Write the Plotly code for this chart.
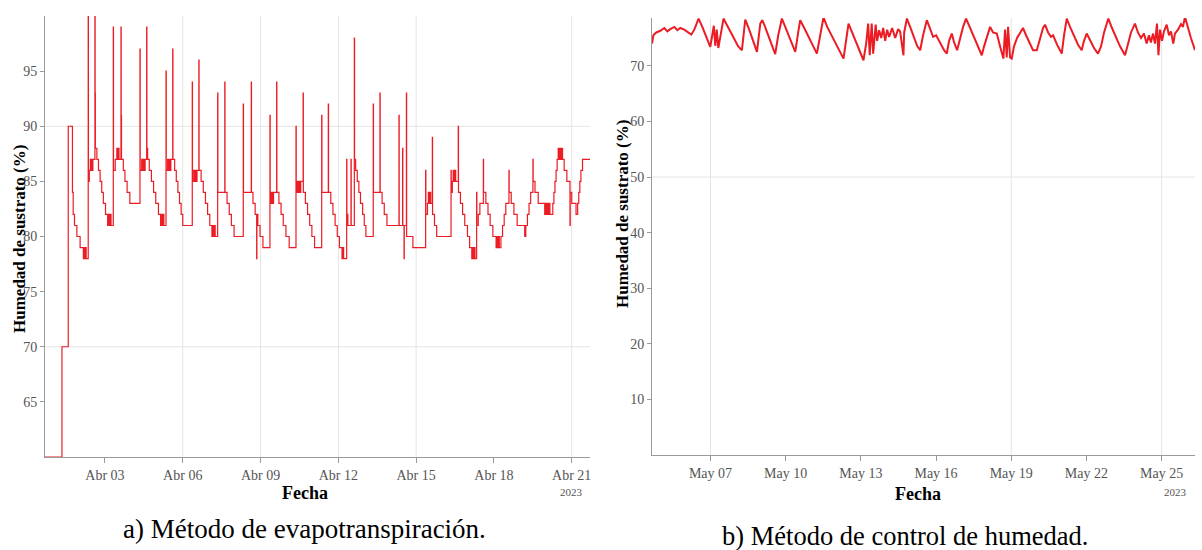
import pandas as pd
import plotly.graph_objects as go

# ---------------- Panel a) Método de evapotranspiración ----------------
# hours since 2023-04-01 00:00 and substrate moisture (%) (step series)
evap_hours = [
    -7.5, 8.2, 14.0, 17.9, 18.6, 19.8, 22.0, 25.0, 28.0, 29.0, 29.4, 30.2, 30.6,
    32.5, 32.7, 33.5, 34.5, 35.0, 35.5, 36.2, 36.8, 38.7, 38.9, 39.1, 40.5, 42.0, 43.5, 45.0, 46.5, 48.5, 50.5, 51.5, 52.2, 53.0, 53.6,
    55.7, 55.9, 57.5, 59.0, 59.6, 60.2, 61.0, 62.8, 63.0, 63.3, 65.0, 66.5, 68.5, 71.0,
    80.4, 80.6, 82.0, 83.0, 83.7, 84.5, 85.2, 86.6, 86.8, 87.5, 89.0, 91.0, 93.0, 95.0, 97.5, 99.5, 100.3, 101.0, 101.8, 102.5,
    104.5, 104.7, 106.0, 106.8, 107.5, 108.2, 109.0, 110.7, 110.9, 112.5, 114.0, 115.5, 117.0, 118.5, 120.0,
    128.8, 129.0, 130.2, 131.0, 131.7, 132.5, 133.2, 134.9, 135.1, 137.0, 139.0, 141.0, 143.0, 145.0, 147.0, 147.8, 148.5, 149.3, 150.0,
    152.3, 152.5, 158.9, 159.1, 161.0, 163.0, 165.0, 167.5,
    176.0, 176.2, 183.4, 183.6, 185.0, 187.0, 188.4, 188.6, 189.5, 191.5, 194.2,
    200.7, 200.9, 202.0, 203.0, 204.0, 206.9, 207.1, 209.0, 211.0, 213.0, 215.5, 218.5,
    224.8, 225.0, 226.0, 226.8, 227.6, 228.4, 229.2, 231.4, 231.6, 233.5, 235.5, 237.5, 239.5, 242.0,
    248.6, 248.8, 254.7, 254.9, 257.0, 259.0, 261.0, 263.0, 265.0, 267.4, 268.2, 268.9,
    271.7, 271.9, 272.8, 275.7, 275.9, 278.8, 279.0, 280.0, 281.5, 283.0, 284.5, 286.5, 288.0, 289.5,
    296.3, 296.5, 302.5, 302.7, 304.5, 306.5, 309.0,
    320.1, 320.3, 323.5, 323.7, 324.8, 325.0, 327.0, 327.2, 333.0,
    344.8, 345.0, 346.5, 347.3, 348.0, 348.8, 349.5, 351.0, 351.2, 353.0, 355.0,
    368.3, 368.5, 369.5, 370.3, 371.0, 371.8, 372.6, 375.0, 375.2, 377.0, 379.0, 381.0, 383.5, 385.5, 387.5, 388.3, 389.0, 389.8, 390.5,
    392.0, 392.2, 393.5, 395.0, 398.2, 398.4, 400.5, 402.5, 404.5, 407.0, 410.0, 410.8, 411.5, 412.3, 413.0,
    414.5, 416.0, 417.5, 419.0, 421.9, 422.1, 424.0, 426.5, 429.5, 436.5,
    437.5, 439.0, 440.5, 442.0, 444.1, 444.3, 446.0, 449.0, 455.0, 455.8, 456.6, 457.4, 458.2, 459.0, 459.8,
    462.5, 463.5, 464.5, 465.5, 466.5, 467.5, 468.3, 469.0, 469.8, 470.5, 471.5, 473.0, 475.5, 478.4, 478.6,
    480.0, 484.0, 485.5, 486.5, 487.5, 488.5, 490.0, 497.0,
]
evap_values = [
    60, 70, 90, 84, 82, 81, 80, 79, 78, 79, 78, 79, 78,
    100, 85, 86, 87, 86, 87, 86, 87, 100, 93, 88, 87, 86, 85, 84, 83, 82, 81, 82, 81, 82, 81,
    99, 86, 87, 88, 87, 88, 87, 99, 91, 87, 86, 85, 84, 83,
    97, 86, 87, 86, 87, 86, 87, 99, 88, 87, 86, 85, 84, 83, 82, 81, 82, 81, 82, 81,
    95, 86, 87, 86, 87, 86, 87, 97, 87, 86, 85, 84, 83, 82, 81,
    94, 85, 86, 85, 86, 85, 86, 96, 86, 85, 84, 83, 82, 81, 80, 81, 80, 81, 80,
    93, 84, 94, 84, 83, 82, 81, 80,
    92, 84, 94, 84, 83, 82, 78, 82, 81, 80, 79,
    91, 83, 84, 83, 84, 94, 84, 83, 82, 81, 80, 79,
    90, 84, 85, 84, 85, 84, 85, 93, 84, 83, 82, 81, 80, 79,
    91, 84, 92, 84, 83, 82, 81, 80, 79, 78, 79, 78,
    87, 82, 81, 87, 81, 98, 87, 86, 85, 84, 83, 82, 81, 80,
    92, 84, 93, 84, 83, 82, 81,
    91, 81, 88, 81, 78, 81, 93, 80, 79,
    86, 82, 83, 84, 83, 84, 83, 89, 82, 81, 80,
    86, 84, 85, 86, 85, 86, 85, 90, 84, 83, 82, 81, 80, 79, 78, 79, 78, 79, 78,
    84, 81, 82, 83, 87, 84, 83, 82, 81, 80, 79, 80, 79, 80, 79,
    80, 81, 82, 83, 86, 84, 83, 82, 81, 80,
    81, 82, 83, 84, 87, 85, 84, 83, 82, 83, 82, 83, 82, 83, 82,
    83, 84, 85, 86, 87, 88, 87, 88, 87, 88, 87, 86, 85, 81, 84,
    83, 82, 83, 84, 85, 86, 87, 87,
]
evap_tickvals = ["2023-04-03", "2023-04-06", "2023-04-09", "2023-04-12",
                 "2023-04-15", "2023-04-18", "2023-04-21"]
evap_ticktext = ["Abr 03", "Abr 06", "Abr 09", "Abr 12", "Abr 15", "Abr 18", "Abr 21"]
evap_grid_dates = ["2023-04-06", "2023-04-09", "2023-04-12", "2023-04-15", "2023-04-21"]
evap_grid_y = [70, 90]
evap_yticks = [65, 70, 75, 80, 85, 90, 95]

# ---------------- Panel b) Método de control de humedad ----------------
# hours since 2023-05-01 00:00 and substrate moisture (%)
ctrl_hours = [
    88.0, 89.3, 92.1, 96.0, 99.8, 102.7, 105.5, 109.4, 112.2, 115.1, 118.9, 122.8, 125.6, 128.5,
    132.6, 136.2, 140.0, 143.8, 145.7, 147.2, 148.6, 150.0, 151.5, 153.4, 156.5, 160.1, 163.9,
    167.7, 170.6, 174.1, 177.3, 181.1, 184.0, 188.5, 191.7, 193.6, 195.5, 199.3, 203.1, 206.0,
    208.9, 212.4, 215.6, 219.4, 222.3, 225.2, 228.0, 229.9, 233.8, 237.6, 241.4, 245.9, 249.1,
    252.2, 255.8, 259.6, 263.4, 267.3, 271.4, 276.2, 279.7, 283.5, 287.4, 290.5, 293.1, 295.0,
    296.5, 298.4, 299.8, 302.2, 303.6, 305.5, 307.5, 309.4, 311.3, 313.2, 315.1, 318.0, 320.9,
    323.7, 325.6, 328.8, 329.5, 332.1, 335.2, 339.0, 341.9, 344.8, 347.6, 351.2, 354.4, 357.2,
    360.1, 363.9, 367.7, 370.3, 372.5, 375.1, 377.3, 380.2, 383.1, 385.9, 388.8, 392.6, 396.5,
    400.3, 403.8, 406.0, 408.9, 411.8, 414.6, 418.2, 421.3, 424.5, 426.1, 427.7, 429.0, 430.9,
    432.5, 434.7, 437.6, 440.5, 443.3, 446.2, 450.0, 452.9, 456.5, 459.6, 462.5, 464.4, 467.3,
    470.1, 472.1, 475.9, 480.4, 482.6, 485.2, 488.3, 492.2, 496.0, 499.5, 501.7, 504.3, 507.5,
    511.3, 515.1, 518.0, 520.9, 525.0, 528.5, 532.4, 536.2, 541.0, 543.8, 546.7, 550.5, 553.4,
    556.3, 559.1, 561.7, 563.9, 565.8, 567.8, 569.7, 571.6, 573.0, 574.5, 576.4, 578.3, 580.9,
    583.1, 585.0, 587.2, 588.8, 591.7, 594.6, 596.5, 598.4, 601.3, 604.1, 608.0,
]
ctrl_values = [
    74.0, 75.5, 76.0, 76.3, 76.8, 76.2, 76.6, 77.0, 76.4, 76.8, 76.5, 76.0, 75.6, 76.5,
    78.5, 77.0, 75.0, 73.4, 75.5, 77.2, 73.6, 76.5, 73.2, 75.0, 78.5, 77.2, 75.8,
    74.5, 73.5, 72.8, 78.3, 76.5, 74.8, 72.5, 77.6, 78.2, 77.4, 75.5, 73.5, 72.1,
    75.5, 78.5, 77.0, 75.2, 73.8, 72.5, 76.0, 78.2, 76.8, 75.3, 73.8, 72.2, 75.5,
    78.7, 77.0, 75.6, 74.2, 72.8, 71.3, 77.6, 76.0, 74.2, 72.5, 71.0, 74.0, 77.6,
    71.9, 77.6, 72.2, 77.4, 74.5, 76.4, 75.0, 76.8, 74.5, 76.5, 75.2, 76.8, 75.0,
    76.6, 76.2, 71.9, 76.0, 78.5, 77.0, 75.0, 73.6, 72.8, 75.5, 78.2, 76.5, 75.2,
    75.5, 74.0, 72.8, 72.2, 74.5, 75.8, 74.2, 72.8, 75.0, 77.0, 78.5, 76.8, 75.0,
    73.2, 71.9, 73.5, 75.5, 77.0, 76.0, 75.8, 73.5, 71.3, 76.5, 71.5, 77.0, 71.5,
    71.3, 73.5, 75.0, 76.0, 76.8, 75.5, 74.0, 72.8, 72.8, 75.0, 76.8, 77.4, 76.0,
    75.2, 75.5, 73.8, 72.2, 75.5, 78.5, 77.0, 75.2, 73.8, 72.8, 74.5, 75.8, 74.5,
    73.2, 72.2, 73.5, 76.0, 78.5, 76.8, 75.0, 73.5, 71.9, 74.0, 76.0, 77.6, 76.0,
    75.0, 75.8, 74.0, 75.5, 74.2, 75.8, 74.0, 77.6, 71.9, 76.5, 74.5, 76.2, 77.4,
    75.5, 76.2, 74.0, 75.8, 76.5, 77.5, 77.0, 78.8, 76.8, 75.0, 72.8,
]
ctrl_tickvals = ["2023-05-07", "2023-05-10", "2023-05-13", "2023-05-16",
                 "2023-05-19", "2023-05-22", "2023-05-25"]
ctrl_ticktext = ["May 07", "May 10", "May 13", "May 16", "May 19", "May 22", "May 25"]
ctrl_grid_dates = ["2023-05-07", "2023-05-19", "2023-05-25"]
ctrl_grid_y = [50]
ctrl_yticks = [10, 20, 30, 40, 50, 60, 70]

captions = ["a) Método de evapotranspiración.", "b) Método de control de humedad."]
x_title = "Fecha"
y_title = "Humedad de sustrato (%)"
year_label = "2023"

# ---------------- build ----------------
W, H = 1202, 550
evap_t = pd.Timestamp("2023-04-01") + pd.to_timedelta(evap_hours, unit="h")
ctrl_t = pd.Timestamp("2023-05-01") + pd.to_timedelta(ctrl_hours, unit="h")

RED = "#ec1c24"
SERIF = "Liberation Serif, Times New Roman, serif"
GRID = "#e4e4e4"
AXIS = "#9a9a9a"

fig = go.Figure()
fig.add_trace(go.Scatter(x=evap_t, y=evap_values, mode="lines", line_shape="hv",
                         line=dict(color=RED, width=1.2), xaxis="x", yaxis="y",
                         showlegend=False))
fig.add_trace(go.Scatter(x=ctrl_t, y=ctrl_values, mode="lines",
                         line=dict(color=RED, width=2.0), xaxis="x2", yaxis="y2",
                         showlegend=False))


def px_x(p):
    return p / W


def px_y(p):
    return 1 - p / H


tickfont = dict(family=SERIF, size=14, color="#555555")
common_x = dict(showline=True, linecolor=AXIS, linewidth=1, ticks="outside",
                ticklen=5, tickcolor=AXIS, showgrid=False, zeroline=False,
                tickfont=tickfont, tickmode="array")
common_y = dict(showline=True, linecolor=AXIS, linewidth=1, ticks="outside",
                ticklen=4, tickcolor=AXIS, showgrid=False, zeroline=False,
                tickfont=tickfont, tickmode="array")

fig.update_layout(
    width=W, height=H, margin=dict(l=0, r=0, t=0, b=0),
    paper_bgcolor="white", plot_bgcolor="white",
    xaxis=dict(common_x, domain=[px_x(45), px_x(590)], anchor="y",
               range=["2023-03-31 16:30", "2023-04-21 16:55"],
               tickvals=evap_tickvals, ticktext=evap_ticktext),
    yaxis=dict(common_y, domain=[px_y(457), px_y(16)], anchor="x",
               range=[60, 100], tickvals=evap_yticks),
    xaxis2=dict(common_x, domain=[px_x(652), px_x(1195)], anchor="y2",
                range=["2023-05-04 16:00", "2023-05-26 08:00"],
                tickvals=ctrl_tickvals, ticktext=ctrl_ticktext),
    yaxis2=dict(common_y, domain=[px_y(455), px_y(18)], anchor="x2",
                range=[0, 78.6], tickvals=ctrl_yticks),
)

# grid lines (only where the original shows them)
for d in evap_grid_dates:
    fig.add_shape(type="line", xref="x", yref="y domain", x0=d, x1=d, y0=0, y1=1,
                  layer="below", line=dict(color=GRID, width=1))
for v in evap_grid_y:
    fig.add_shape(type="line", xref="x domain", yref="y", x0=0, x1=1, y0=v, y1=v,
                  layer="below", line=dict(color=GRID, width=1))
for d in ctrl_grid_dates:
    fig.add_shape(type="line", xref="x2", yref="y2 domain", x0=d, x1=d, y0=0, y1=1,
                  layer="below", line=dict(color=GRID, width=1))
for v in ctrl_grid_y:
    fig.add_shape(type="line", xref="x2 domain", yref="y2", x0=0, x1=1, y0=v, y1=v,
                  layer="below", line=dict(color=GRID, width=1))

ytitle_font = dict(family=SERIF, size=17, color="black")
xtitle_font = dict(family=SERIF, size=18, color="black")
ann = [
    dict(text=f"<b>{y_title}</b>", x=px_x(19), y=px_y(239), textangle=-90, font=ytitle_font),
    dict(text=f"<b>{y_title}</b>", x=px_x(622), y=px_y(214), textangle=-90, font=ytitle_font),
    dict(text=f"<b>{x_title}</b>", x=px_x(305), y=px_y(493), font=xtitle_font),
    dict(text=f"<b>{x_title}</b>", x=px_x(918), y=px_y(494), font=xtitle_font),
]
for a in ann:
    fig.add_annotation(xref="paper", yref="paper", showarrow=False,
                       xanchor="center", yanchor="middle", **a)

fig.add_annotation(text=year_label, xref="x", yref="paper", x=evap_tickvals[-1],
                   y=px_y(492), showarrow=False, xanchor="center", yanchor="middle",
                   font=dict(family=SERIF, size=11, color="#555555"))
fig.add_annotation(text=year_label, xref="x2", yref="paper", x=ctrl_tickvals[-1],
                   xshift=14, y=px_y(492), showarrow=False, xanchor="center",
                   yanchor="middle", font=dict(family=SERIF, size=11, color="#555555"))

fig.add_annotation(text=captions[0], xref="paper", yref="paper", x=px_x(304),
                   y=px_y(529), showarrow=False, xanchor="center", yanchor="middle",
                   font=dict(family=SERIF, size=27, color="black"))
fig.add_annotation(text=captions[1], xref="paper", yref="paper", x=px_x(905),
                   y=px_y(536), showarrow=False, xanchor="center", yanchor="middle",
                   font=dict(family=SERIF, size=26.5, color="black"))

fig.write_html("out.html", config={"displayModeBar": False},
               post_script="document.body.style.margin='0';"
                           "document.body.style.overflow='hidden';")
